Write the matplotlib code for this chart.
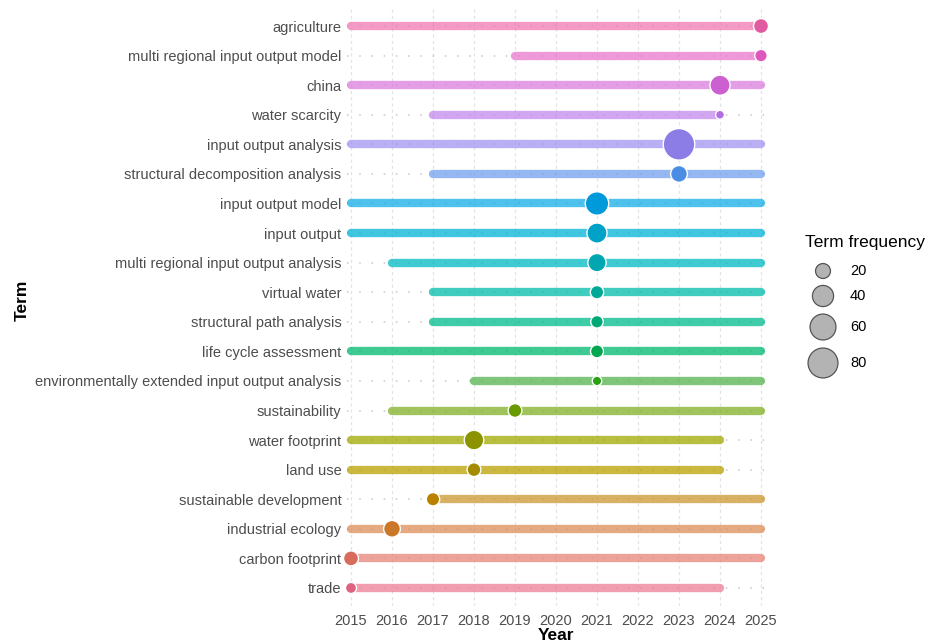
import numpy as np
import matplotlib
matplotlib.use("Agg")
import matplotlib.pyplot as plt

terms = ["trade", "carbon footprint", "industrial ecology", "sustainable development",
         "land use", "water footprint", "sustainability",
         "environmentally extended input output analysis", "life cycle assessment",
         "structural path analysis", "virtual water", "multi regional input output analysis",
         "input output", "input output model", "structural decomposition analysis",
         "input output analysis", "water scarcity", "china",
         "multi regional input output model", "agriculture"]
year_start = [2015, 2015, 2015, 2017, 2015, 2015, 2016, 2018, 2015, 2017, 2017, 2016,
              2015, 2015, 2017, 2015, 2017, 2015, 2019, 2015]
year_median = [2015, 2015, 2016, 2017, 2018, 2018, 2019, 2021, 2021, 2021, 2021, 2021,
               2021, 2021, 2023, 2023, 2024, 2024, 2025, 2025]
year_end = [2024, 2025, 2025, 2025, 2024, 2024, 2025, 2025, 2025, 2025, 2025, 2025,
            2025, 2025, 2025, 2025, 2024, 2025, 2025, 2025]
freq = [11, 20, 25, 16, 17, 34, 17, 8, 15, 14, 16, 30, 36, 49, 25, 89, 7, 36, 14, 20]
legend_vals = [20, 40, 60, 80]
year_ticks = list(range(2015, 2026))


def hcl(h, c, l):
    Xn, Yn, Zn = 95.047, 100.0, 108.883
    hr = np.deg2rad(h)
    u = c * np.cos(hr)
    v = c * np.sin(hr)
    Y = Yn * ((l + 16) / 116) ** 3 if l > 8 else Yn * l / 903.3
    un = 4 * Xn / (Xn + 15 * Yn + 3 * Zn)
    vn = 9 * Yn / (Xn + 15 * Yn + 3 * Zn)
    up = u / (13 * l) + un
    vp = v / (13 * l) + vn
    X = Y * 9 * up / (4 * vp)
    Z = Y * (12 - 3 * up - 20 * vp) / (4 * vp)
    M = np.array([[3.2404542, -1.5371385, -0.4985314],
                  [-0.9692660, 1.8760108, 0.0415560],
                  [0.0556434, -0.2040259, 1.0572252]])
    rgb = M @ (np.array([X, Y, Z]) / 100.0)
    rgb = np.where(rgb <= 0.0031308, 12.92 * rgb, 1.055 * np.power(np.clip(rgb, 0, None), 1 / 2.4) - 0.055)
    return tuple(np.clip(rgb, 0, 1))


def size_of(f):
    r_px = np.sqrt(2.8 * np.asarray(f, dtype=float))
    return (2 * r_px * 72 / 100.0) ** 2


n = len(terms)
hues = [(i * 360.0 / n) % 360 for i in range(n)]
pt_cols = [hcl(h, 85, 58) for h in hues]
seg_cols = [hcl(h, 75, 66) for h in hues]

plt.rcParams['font.family'] = ['Liberation Sans', 'DejaVu Sans']
fig = plt.figure(figsize=(9.31, 6.43), dpi=100)
W, H = 931, 643
x0, x1 = 346.9, 765.1
ytop, ybot = 8.3, 605.7
ax = fig.add_axes([x0 / W, 1 - ybot / H, (x1 - x0) / W, (ybot - ytop) / H])

ypos = np.arange(n)
for yv in year_ticks:
    ax.axvline(yv, color='#e3e3e3', lw=0.9, ls=(0, (2.5, 2.5)), zorder=0)
for y in ypos:
    ax.axhline(y, color='#c8c8c8', lw=1.1, ls=(0, (1, 7)), zorder=0.5)

for i in range(n):
    ax.plot([year_start[i], year_end[i]], [ypos[i], ypos[i]], color=seg_cols[i],
            lw=6.0, solid_capstyle='round', alpha=0.75, zorder=1, clip_on=False)
ax.scatter(year_median, ypos, s=size_of(freq), c=pt_cols, edgecolors='white',
           linewidths=1.0, zorder=3, clip_on=False)

ax.set_xlim(2014.9, 2025.1)
ax.set_ylim(-0.6, n - 0.4)
ax.set_xticks(year_ticks)
ax.set_yticks(ypos)
ax.set_yticklabels(terms)
ax.tick_params(length=0, labelsize=10.5, colors='#4d4d4d')
ax.tick_params(axis='y', pad=4)
ax.tick_params(axis='x', pad=6)
for s in ax.spines.values():
    s.set_visible(False)
fig.text((x0 + x1) / 2 / W, 1 - 635 / H, "Year", fontsize=12.5, fontweight='bold',
         ha='center', va='center')
fig.text(22 / W, 1 - 300 / H, "Term", rotation=90, fontsize=12.5, fontweight='bold',
         ha='center', va='center')

# legend
lax = fig.add_axes([790 / W, 0, 141 / W, 1])
lax.set_xlim(0, 141)
lax.set_ylim(H, 0)
lax.axis('off')
lax.text(15, 242, "Term frequency", fontsize=12.5, va='center', ha='left', color='black')
leg_y = [271, 296, 327, 363]
lax.scatter([33] * 4, leg_y, s=size_of(legend_vals), c='#b3b3b3', edgecolors='#555555',
            linewidths=0.9)
for yv, v in zip(leg_y, legend_vals):
    lax.text(60, yv, str(v), fontsize=10.5, va='center', ha='left', color='black')

fig.savefig("out.png", dpi=100)
